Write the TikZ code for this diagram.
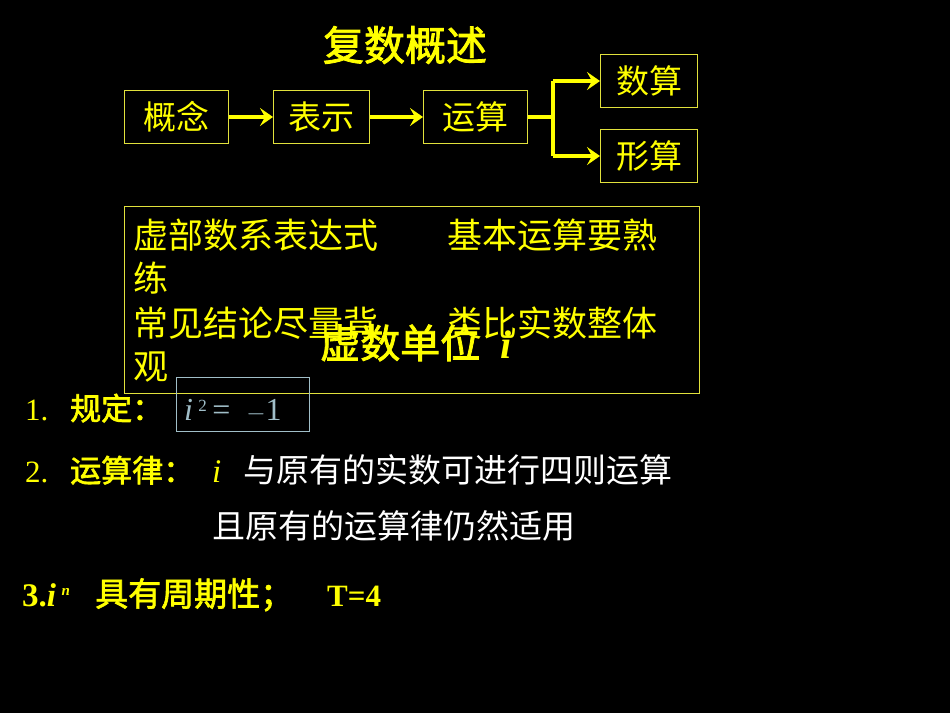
\documentclass[tikz,border=0pt]{standalone}
\usepackage{fontspec}
\setmainfont{Liberation Serif}
\newfontfamily\cjk{Noto Sans CJK SC}
\newfontfamily\cjkb{Noto Sans CJK SC}[FakeBold=2]
\usetikzlibrary{arrows.meta}
\definecolor{yel}{RGB}{255,255,0}
\definecolor{dyel}{RGB}{225,225,60}
\definecolor{lblue}{RGB}{160,190,200}
\tikzset{
  box/.style={draw=dyel,line width=1pt,text=yel,font=\cjk\fontsize{33}{36}\selectfont,inner sep=0pt,anchor=north west},
  con/.style={draw=yel,line width=4pt},
  arr/.style={con,-{Stealth[length=13pt,width=18pt,inset=5pt]}},
  txt/.style={anchor=base west,inner sep=0pt},
}
\begin{document}
\begin{tikzpicture}[x=1pt,y=-1pt]
\fill[black] (0,0) rectangle (950,713);
\useasboundingbox (0,0) rectangle (950,713);
\node[text=yel,font=\cjkb\fontsize{41}{44}\selectfont] (title) at (405,45) {复数概述};
\node[box,minimum width=104,minimum height=53] (a) at (124,90) {概念};
\node[box,minimum width=96,minimum height=53] (b) at (273,90) {表示};
\node[box,minimum width=104,minimum height=53] (c) at (423,90) {运算};
\node[box,minimum width=97,minimum height=53] (d) at (600,54) {数算};
\node[box,minimum width=97,minimum height=53] (e) at (600,129) {形算};
\draw[arr] (a.east) -- (b.west);
\draw[arr] (b.east) -- (c.west);
\coordinate (j) at (553,117);
\draw[con] (c.east) -- (j);
\draw[con] (j|-d.west) -- (j|-e.west);
\draw[arr] (j|-d.west) -- (d.west);
\draw[arr] (j|-e.west) -- (e.west);
\node[draw=dyel,line width=1pt,minimum width=575,minimum height=187,anchor=north west,inner sep=0pt] (big) at (124,206) {};
\begin{scope}[every node/.style={txt,text=yel,font=\cjk\fontsize{35}{38}\selectfont}]
\node (l1) at (133,248) {虚部数系表达式};
\node (r1) at (447,248) {基本运算要熟};
\node (l2) at (133,291) {练};
\node (l3) at (133,336) {常见结论尽量背};
\node (r3) at (447,336) {类比实数整体};
\node (l4) at (133,379) {观};
\end{scope}
\node[txt,text=yel,font=\cjkb\fontsize{40}{42}\selectfont] (unit) at (320,358) {虚数单位\hspace{20pt}\rmfamily\itshape\bfseries i};
\node[txt,text=yel,font=\fontsize{31}{32}\selectfont] (p1) at (25,420) {1.};
\node[txt,text=yel,font=\cjkb\fontsize{31}{32}\selectfont] (p1b) at (70,420) {规定：};
\node[draw=lblue,line width=1pt,minimum width=133,minimum height=54,anchor=north west,inner sep=0pt] (ibox) at (176,377) {};
\node[txt,text=lblue,font=\fontsize{32}{34}\selectfont] (eq) at (184,420) {\itshape i\,\upshape\raisebox{9pt}{\fontsize{17}{18}\selectfont 2}\,=\ \ $-$1};
\node[txt,text=yel,font=\fontsize{31}{32}\selectfont] (p2) at (25,482) {2.};
\node[txt,text=yel,font=\cjkb\fontsize{31}{32}\selectfont] (p2a) at (70,482) {运算律：};
\node[txt,text=yel,font=\itshape\fontsize{33}{34}\selectfont] (p2i) at (212,482) {i};
\node[txt,text=white,font=\cjk\fontsize{33}{34}\selectfont] (p2b) at (243,482) {与原有的实数可进行四则运算};
\node[txt,text=white,font=\cjk\fontsize{33}{34}\selectfont] (p2c) at (212,538) {且原有的运算律仍然适用};
\node[txt,text=yel,font=\bfseries\fontsize{33}{34}\selectfont] (p3) at (22,606) {3.\itshape i\upshape\,\raisebox{11pt}{\fontsize{15}{16}\selectfont\itshape n}};
\node[txt,text=yel,font=\cjkb\fontsize{33}{34}\selectfont] (p3b) at (95,606) {具有周期性；};
\node[txt,text=yel,font=\bfseries\fontsize{31}{34}\selectfont] (p3c) at (327,606) {T=4};
\end{tikzpicture}
\end{document}
